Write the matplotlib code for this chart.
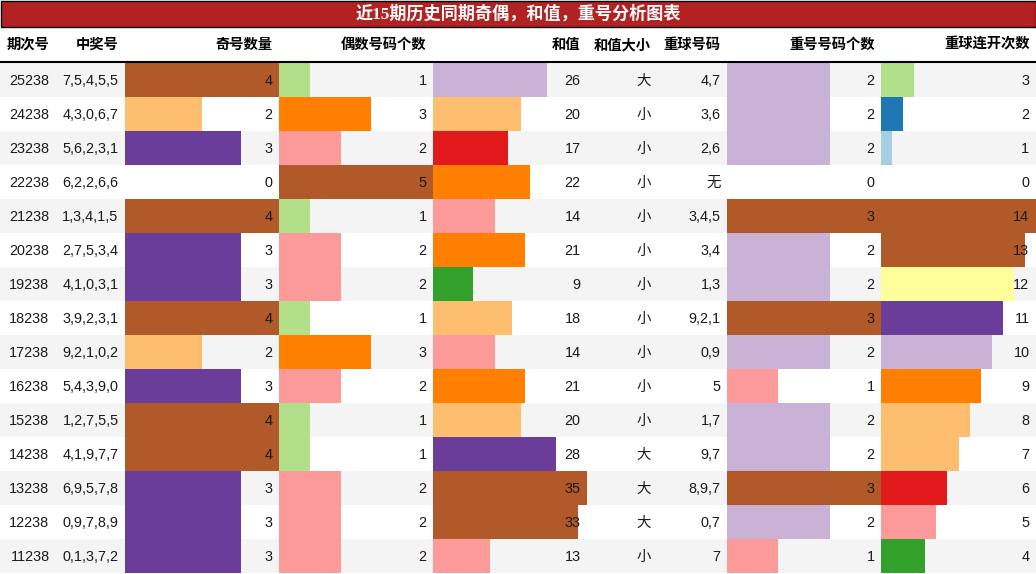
import numpy as np
import matplotlib.pyplot as plt
from matplotlib.patches import Rectangle

plt.rcParams['font.family'] = ['Liberation Sans', 'Noto Sans CJK SC', 'DejaVu Sans']

# -------------------------
# Data
# -------------------------

title = '近15期历史同期奇偶，和值，重号分析图表'
headers = ['期次号', '中奖号', '奇号数量', '偶数号码个数', '和值', '和值大小',
           '重球号码', '重号号码个数', '重球连开次数']

issues = ['25238', '24238', '23238', '22238', '21238', '20238', '19238', '18238',
          '17238', '16238', '15238', '14238', '13238', '12238', '11238']
numbers = ['7,5,4,5,5', '4,3,0,6,7', '5,6,2,3,1', '6,2,2,6,6', '1,3,4,1,5',
           '2,7,5,3,4', '4,1,0,3,1', '3,9,2,3,1', '9,2,1,0,2', '5,4,3,9,0',
           '1,2,7,5,5', '4,1,9,7,7', '6,9,5,7,8', '0,9,7,8,9', '0,1,3,7,2']
odd_count = [4, 2, 3, 0, 4, 3, 3, 4, 2, 3, 4, 4, 3, 3, 3]
even_count = [1, 3, 2, 5, 1, 2, 2, 1, 3, 2, 1, 1, 2, 2, 2]
sum_value = [26, 20, 17, 22, 14, 21, 9, 18, 14, 21, 20, 28, 35, 33, 13]
sum_size = ['大', '小', '小', '小', '小', '小', '小', '小', '小', '小', '小', '大', '大', '大', '小']
repeat_nums = ['4,7', '3,6', '2,6', '无', '3,4,5', '3,4', '1,3', '9,2,1', '0,9', '5',
               '1,7', '9,7', '8,9,7', '0,7', '7']
repeat_count = [2, 2, 2, 0, 3, 2, 2, 3, 2, 1, 2, 2, 3, 2, 1]
streak_count = [3, 2, 1, 0, 14, 13, 12, 11, 10, 9, 8, 7, 6, 5, 4]

# -------------------------
# Layout (pixels)
# -------------------------

W, H = 1036, 574
col_left = [0, 56, 125, 279, 433, 587, 657, 727, 881]
col_right = col_left[1:] + [1036]
pad = 6.5
title_h = 26
head_bottom = 63
row_h = 34

cmap = plt.get_cmap('Paired')

fig = plt.figure(figsize=(W / 100, H / 100), dpi=100)
ax = fig.add_axes([0, 0, 1, 1])
ax.set_xlim(0, W)
ax.set_ylim(H, 0)
ax.axis('off')

n = len(issues)
row_y = head_bottom + row_h * np.arange(n)
row_c = row_y + row_h / 2

# row stripes
for i in range(n):
    color = '#f4f4f4' if i % 2 == 0 else 'white'
    ax.add_patch(Rectangle((0, row_y[i]), W, row_h, color=color, lw=0, zorder=0))

# data bars, colour picked from Paired by share of the column max
bar_cols = {2: odd_count, 3: even_count, 4: sum_value, 7: repeat_count, 8: streak_count}
for c, vals in bar_cols.items():
    vals = np.array(vals, dtype=float)
    vmax = vals.max()
    span = col_right[c] - col_left[c]
    idx = np.minimum((vals / vmax * 12).astype(int), 11)
    ax.barh(row_c, vals / vmax * span, height=row_h, left=col_left[c],
            color=[cmap(k) for k in idx], lw=0, zorder=1)

# cell text
columns = [issues, numbers, odd_count, even_count, sum_value, sum_size,
           repeat_nums, repeat_count, streak_count]
for c, vals in enumerate(columns):
    for i, v in enumerate(vals):
        ax.text(col_right[c] - pad, row_c[i] + 1, str(v), ha='right', va='center',
                fontsize=10.4, color='#1a1a1a', zorder=3)

# header
for c, h in enumerate(headers):
    ax.text(col_right[c] - pad, 45, h, ha='right', va='center',
            fontsize=10.3, fontweight='bold', color='black',
            family=['Noto Sans CJK SC'])
ax.plot([0, W], [head_bottom - 1, head_bottom - 1], color='black', lw=1.5, zorder=4)

# title bar
ax.add_patch(Rectangle((0.5, 0.5), W - 1, title_h, facecolor='#b22222',
                       edgecolor='black', lw=1, zorder=5))
ax.text(W / 2, title_h / 2 + 1, title, ha='center', va='center', color='white',
        fontsize=12.3, fontweight='bold', zorder=6,
        family=['Liberation Serif', 'Noto Sans CJK SC'])

fig.savefig('out.png', dpi=100)
plt.close(fig)
